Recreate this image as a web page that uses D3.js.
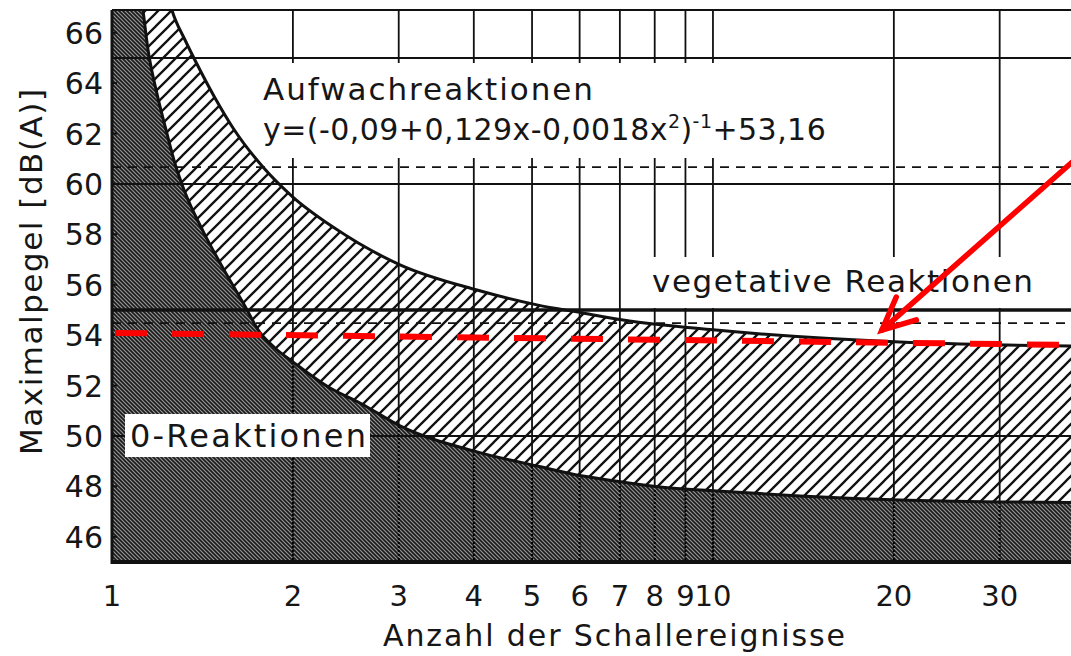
<!DOCTYPE html>
<html>
<head>
<meta charset="utf-8">
<script src="https://cdn.jsdelivr.net/npm/d3@7"></script>
<style>
    body { margin: 0; background: #fff; overflow: hidden; }
    text { font-family: "DejaVu Sans", sans-serif; fill: #161616; }
</style>
</head>
<body>
<script>
//chart values
var xTickValues = [1, 2, 3, 4, 5, 6, 7, 8, 9, 10, 20, 30];
var yTickValues = [46, 48, 50, 52, 54, 56, 58, 60, 62, 64, 66];

//upper edge of the hatched band (Aufwachreaktionen)
var upperX = [1, 1.2, 1.258, 1.323, 1.401, 1.484, 1.59, 1.783, 2.0, 2.332, 3.015, 4.049, 5.095, 6.076, 7.084, 10, 20.47, 30.85, 39.4, 50];
var upperY = [80, 69, 66.9, 65.71, 64.52, 63.41, 62.22, 60.67, 59.48, 58.29, 56.79, 55.79, 55.2, 54.88, 54.6, 54.21, 53.73, 53.61, 53.57, 53.53];

//upper edge of the dark area (0-Reaktionen)
var lowerX = [1, 1.08, 1.126, 1.148, 1.184, 1.23, 1.278, 1.318, 1.422, 1.536, 1.671, 1.75, 1.867, 2.0, 2.306, 2.586, 3.015, 4.049, 5.095, 6.076, 7.084, 8.163, 10.15, 13.96, 20.47, 30.85, 50];
var lowerY = [80, 70, 66.9, 65.32, 63.73, 62.14, 60.67, 59.76, 58.06, 56.59, 55.08, 54.21, 53.49, 52.94, 51.9, 51.31, 50.4, 49.37, 48.81, 48.41, 48.17, 47.98, 47.82, 47.62, 47.46, 47.38, 47.34];

//reference lines
var solidLevels = [65, 60, 55, 50];
var dashedLevels = [60.67, 54.48];

//red marking
var redX = [1, 50];
var redY = [54.09, 53.58];
var arrowX = [50, 19.1];
var arrowY = [63.0, 54.2];

var xLabel = "Anzahl der Schallereignisse";
var yLabel = "Maximalpegel [dB(A)]";

(function(){

    var width = 1071, height = 656;

    var svg = d3.select("body")
        .append("svg")
        .attr("width", width)
        .attr("height", height);

    //scales
    var x = d3.scaleLog().domain([1, 50]).range([112, 1133]);
    var y = d3.scaleLinear().domain([45, 66.9]).range([562, 10]);

    var upper = upperX.map(function(d, i){ return [d, upperY[i]]; });
    var lower = lowerX.map(function(d, i){ return [d, lowerY[i]]; });

    var defs = svg.append("defs");

    //plot clip
    defs.append("clipPath").attr("id", "plotClip")
        .append("rect")
        .attr("x", x(1)).attr("y", y(66.9))
        .attr("width", x(50) - x(1)).attr("height", y(45) - y(66.9));

    //hatch for the band
    var hatch = defs.append("pattern")
        .attr("id", "hatch")
        .attr("patternUnits", "userSpaceOnUse")
        .attr("width", 13).attr("height", 13);
    hatch.append("rect").attr("width", 13).attr("height", 13).attr("fill", "#fff");
    hatch.append("path")
        .attr("d", "M-2,2 L2,-2 M0,13 L13,0 M11,15 L15,11")
        .attr("stroke", "#111").attr("stroke-width", 2.3);

    //fine texture for the dark area
    var dark = defs.append("pattern")
        .attr("id", "dark")
        .attr("patternUnits", "userSpaceOnUse")
        .attr("width", 4).attr("height", 4);
    dark.append("rect").attr("width", 4).attr("height", 4).attr("fill", "#959595");
    dark.append("path")
        .attr("d", "M-1,-1 L5,5 M-1,3 L1,5 M3,-1 L5,1")
        .attr("stroke", "#1a1a1a").attr("stroke-width", 1.6);

    var line = d3.line()
        .x(function(d){ return x(d[0]); })
        .y(function(d){ return y(d[1]); })
        .curve(d3.curveMonotoneX);

    var areaUnder = d3.area()
        .x(function(d){ return x(d[0]); })
        .y0(y(45))
        .y1(function(d){ return y(d[1]); })
        .curve(d3.curveMonotoneX);

    //clip for the dark part, used for dotted grid lines
    defs.append("clipPath").attr("id", "darkClip")
        .append("path").attr("d", areaUnder(lower));
    //clip for everything above the dark part
    defs.append("clipPath").attr("id", "lightClip")
        .append("path")
        .attr("d", "M" + x(1) + "," + y(80) + "L" + x(50) + "," + y(80) + "L" + line(lower.slice().reverse()).slice(1));

    var plot = svg.append("g").attr("clip-path", "url(#plotClip)");

    //hatched band and dark area
    plot.append("path")
        .attr("d", areaUnder(upper))
        .attr("fill", "url(#hatch)");
    plot.append("path")
        .attr("d", areaUnder(lower))
        .attr("fill", "url(#dark)");

    //vertical grid lines
    var vGrid = xTickValues.filter(function(d){ return d > 1; });
    plot.append("g").attr("clip-path", "url(#lightClip)")
        .selectAll("line").data(vGrid).enter().append("line")
        .attr("x1", function(d){ return x(d); }).attr("x2", function(d){ return x(d); })
        .attr("y1", y(66.9)).attr("y2", y(45))
        .attr("stroke", "#111").attr("stroke-width", 1.8);
    plot.append("g").attr("clip-path", "url(#darkClip)")
        .selectAll("line").data(vGrid).enter().append("line")
        .attr("x1", function(d){ return x(d); }).attr("x2", function(d){ return x(d); })
        .attr("y1", y(66.9)).attr("y2", y(45))
        .attr("stroke", "#000").attr("stroke-width", 2)
        .attr("stroke-dasharray", "2,2");

    //horizontal grid lines
    plot.selectAll(".hSolid").data(solidLevels).enter().append("line")
        .attr("class", "hSolid")
        .attr("x1", x(1)).attr("x2", x(50))
        .attr("y1", function(d){ return y(d); }).attr("y2", function(d){ return y(d); })
        .attr("stroke", "#111")
        .attr("stroke-width", function(d){ return d === 55 ? 3.5 : 2; });
    plot.selectAll(".hDash").data(dashedLevels).enter().append("line")
        .attr("class", "hDash")
        .attr("x1", x(1)).attr("x2", x(50))
        .attr("y1", function(d){ return y(d); }).attr("y2", function(d){ return y(d); })
        .attr("stroke", "#111").attr("stroke-width", 1.8)
        .attr("stroke-dasharray", "9,7");

    //white boxes behind labels
    plot.append("rect")
        .attr("x", 258).attr("y", 63).attr("width", 590).attr("height", 95)
        .attr("fill", "#fff");
    plot.append("rect")
        .attr("x", 640).attr("y", 257).attr("width", 440).attr("height", 51)
        .attr("fill", "#fff");

    //curve outlines
    plot.append("path")
        .attr("d", line(upper))
        .attr("fill", "none").attr("stroke", "#111").attr("stroke-width", 3);
    plot.append("path")
        .attr("d", line(lower))
        .attr("fill", "none").attr("stroke", "#111").attr("stroke-width", 3);

    //0-Reaktionen label box
    plot.append("rect")
        .attr("x", 125).attr("y", 414).attr("width", 245).attr("height", 43)
        .attr("fill", "#fff");

    //frame
    svg.append("line")
        .attr("x1", x(1)).attr("x2", width).attr("y1", y(66.9)).attr("y2", y(66.9))
        .attr("stroke", "#111").attr("stroke-width", 2);
    svg.append("line")
        .attr("x1", x(1)).attr("x2", x(1)).attr("y1", y(66.9)).attr("y2", y(45) + 2)
        .attr("stroke", "#111").attr("stroke-width", 3);
    svg.append("line")
        .attr("x1", x(1) - 1).attr("x2", width).attr("y1", y(45)).attr("y2", y(45))
        .attr("stroke", "#111").attr("stroke-width", 4);

    //y ticks
    svg.selectAll(".yTick").data(yTickValues).enter().append("line")
        .attr("class", "yTick")
        .attr("x1", x(1)).attr("x2", x(1) + 5)
        .attr("y1", function(d){ return y(d); }).attr("y2", function(d){ return y(d); })
        .attr("stroke", "#111").attr("stroke-width", 2);

    //tick labels
    svg.selectAll(".yLab").data(yTickValues).enter().append("text")
        .attr("class", "yLab")
        .attr("x", 103)
        .attr("y", function(d){ return y(d) + 11; })
        .attr("text-anchor", "end")
        .style("font-size", "30px")
        .text(function(d){ return d; });
    svg.selectAll(".xLab").data(xTickValues).enter().append("text")
        .attr("class", "xLab")
        .attr("x", function(d){ return x(d); })
        .attr("y", 606)
        .attr("text-anchor", "middle")
        .style("font-size", "29px")
        .text(function(d){ return d; });

    //axis titles
    svg.append("text")
        .attr("x", 614).attr("y", 646)
        .attr("text-anchor", "middle")
        .attr("textLength", 462)
        .style("font-size", "30px")
        .text(xLabel);
    svg.append("text")
        .attr("transform", "translate(42,272) rotate(-90)")
        .attr("text-anchor", "middle")
        .attr("textLength", 366)
        .style("font-size", "31px")
        .text(yLabel);

    //annotations
    svg.append("text")
        .attr("x", 263).attr("y", 100)
        .attr("textLength", 330)
        .style("font-size", "31px")
        .text("Aufwachreaktionen");
    var eq = svg.append("text")
        .attr("x", 263).attr("y", 140)
        .style("font-size", "30px")
        .style("letter-spacing", "0.45px");
    eq.append("tspan").text("y=(-0,09+0,129x-0,0018x");
    eq.append("tspan").attr("dy", -12).style("font-size", "19px").text("2");
    eq.append("tspan").attr("dy", 12).text(")");
    eq.append("tspan").attr("dy", -12).style("font-size", "19px").text("-1");
    eq.append("tspan").attr("dy", 12).text("+53,16");
    svg.append("text")
        .attr("x", 652).attr("y", 292)
        .attr("textLength", 381)
        .style("font-size", "31px")
        .text("vegetative Reaktionen");
    svg.append("text")
        .attr("x", 130).attr("y", 447)
        .attr("textLength", 236)
        .style("font-size", "32px")
        .text("0-Reaktionen");

    //red dashed level
    svg.append("line")
        .attr("x1", x(redX[0])).attr("x2", x(redX[1]))
        .attr("y1", y(redY[0])).attr("y2", y(redY[1]))
        .attr("stroke", "#ff0000").attr("stroke-width", 6)
        .attr("stroke-dasharray", "32,25")
        .attr("stroke-dashoffset", -3);

    //red arrow
    var ax0 = x(arrowX[0]), ay0 = y(arrowY[0]), ax1 = x(arrowX[1]), ay1 = y(arrowY[1]);
    var ang = Math.atan2(ay0 - ay1, ax0 - ax1), wing = 36, spread = 25 * Math.PI / 180;
    var arrow = svg.append("g")
        .attr("stroke", "#ff0000").attr("stroke-width", 5.5)
        .attr("stroke-linecap", "round").attr("fill", "none");
    arrow.append("line")
        .attr("x1", ax0).attr("y1", ay0).attr("x2", ax1).attr("y2", ay1);
    arrow.append("path")
        .attr("d", "M" + (ax1 + wing * Math.cos(ang - spread)) + "," + (ay1 + wing * Math.sin(ang - spread)) +
            "L" + ax1 + "," + ay1 +
            "L" + (ax1 + wing * Math.cos(ang + spread)) + "," + (ay1 + wing * Math.sin(ang + spread)))
        .attr("stroke-linejoin", "miter");

})();
</script>
</body>
</html>
